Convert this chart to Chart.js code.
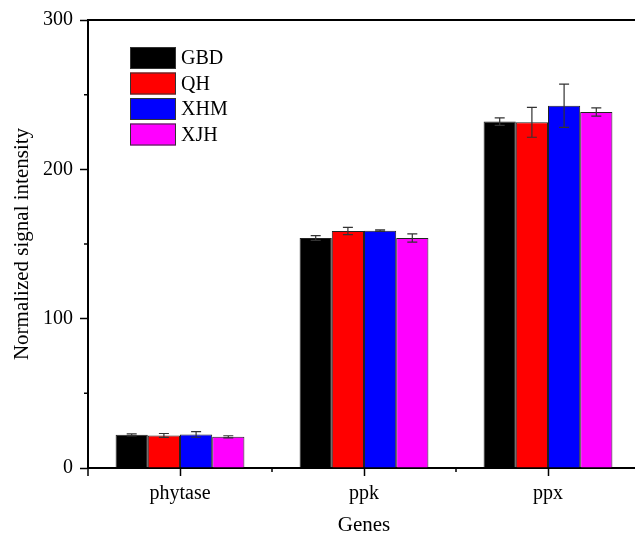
<!DOCTYPE html>
<html>
<head>
<meta charset="utf-8">
<script src="https://cdn.jsdelivr.net/npm/chart.js@4.4.1/dist/chart.umd.min.js"></script>
<style>
  html, body { margin: 0; padding: 0; background: #fff; overflow: hidden; }
  #wrap { width: 635px; height: 536px; overflow: hidden; }
</style>
</head>
<body>
<div id="wrap"><canvas id="chart" width="642" height="536"></canvas></div>
<script>
// Data
const genes = ['phytase', 'ppk', 'ppx'];
const groups = ['GBD', 'QH', 'XHM', 'XJH'];
const gbdVals = [22.2, 154.0, 232.0];
const gbdErr = [0.7, 1.6, 2.5];
const qhVals = [21.8, 158.7, 231.5];
const qhErr = [1.3, 2.4, 10.0];
const xhmVals = [22.5, 158.9, 242.6];
const xhmErr = [1.9, 0.5, 14.5];
const xjhVals = [20.9, 154.0, 238.4];
const xjhErr = [0.7, 2.8, 2.8];
const yTicks = [0, 100, 200, 300];

const colors = ['#000000', '#ff0000', '#0000ff', '#ff00ff'];
const serif = '"Liberation Serif", "Times New Roman", serif';
const font = { family: serif, size: 20 };
const titleFont = { family: serif, size: 21 };

const datasets = [gbdVals, qhVals, xhmVals, xjhVals].map((vals, i) => ({
  label: groups[i],
  data: vals,
  errors: [gbdErr, qhErr, xhmErr, xjhErr][i],
  backgroundColor: colors[i],
  borderColor: '#222',
  borderWidth: 1,
  categoryPercentage: 0.7,
  barPercentage: 1.0
}));

// Error bars drawn from the y scale
const errorBars = {
  id: 'errorBars',
  afterDatasetsDraw(chart) {
    const { ctx, scales: { y } } = chart;
    ctx.save();
    ctx.strokeStyle = '#333';
    ctx.lineWidth = 1.2;
    chart.data.datasets.forEach((ds, i) => {
      chart.getDatasetMeta(i).data.forEach((bar, j) => {
        const top = y.getPixelForValue(ds.data[j] + ds.errors[j]);
        const bot = y.getPixelForValue(ds.data[j] - ds.errors[j]);
        ctx.beginPath();
        ctx.moveTo(bar.x, top); ctx.lineTo(bar.x, bot);
        ctx.moveTo(bar.x - 5, top); ctx.lineTo(bar.x + 5, top);
        ctx.moveTo(bar.x - 5, bot); ctx.lineTo(bar.x + 5, bot);
        ctx.stroke();
      });
    });
    ctx.restore();
  }
};

// Top frame line, minor ticks and the boxed legend
const frame = {
  id: 'frame',
  afterDraw(chart) {
    const { ctx, chartArea: a, scales: { y } } = chart;
    ctx.save();
    ctx.strokeStyle = '#000';
    ctx.lineWidth = 2;
    ctx.beginPath();
    ctx.moveTo(a.left - 1, a.top); ctx.lineTo(a.right, a.top);
    ctx.stroke();

    ctx.lineWidth = 1.5;
    ctx.beginPath();
    y.ticks.forEach(t => {
      if (!yTicks.includes(t.value)) {
        const py = y.getPixelForValue(t.value);
        ctx.moveTo(a.left - 4, py); ctx.lineTo(a.left, py);
      }
    });
    const step = (a.right - a.left) / genes.length;
    ctx.moveTo(a.left, a.bottom); ctx.lineTo(a.left, a.bottom + 8);
    for (let k = 1; k < genes.length; k++) {
      const px = a.left + step * k;
      ctx.moveTo(px, a.bottom); ctx.lineTo(px, a.bottom + 4);
    }
    ctx.stroke();

    // legend
    const lx = a.left + 42, ly = a.top + 27;
    ctx.font = `${font.size}px ${serif}`;
    ctx.textBaseline = 'middle';
    chart.data.datasets.forEach((ds, i) => {
      const by = ly + i * 25.5;
      ctx.fillStyle = ds.backgroundColor;
      ctx.fillRect(lx, by, 46, 22);
      ctx.strokeStyle = '#333';
      ctx.lineWidth = 1;
      ctx.strokeRect(lx + 0.5, by + 0.5, 45, 21);
      ctx.fillStyle = '#000';
      ctx.fillText(ds.label, lx + 51, by + 12);
    });
    ctx.restore();
  }
};

new Chart(document.getElementById('chart'), {
  type: 'bar',
  data: { labels: genes, datasets },
  options: {
    responsive: false,
    animation: false,
    devicePixelRatio: 1,
    layout: { padding: { top: 20, right: 2, left: 0, bottom: 0 } },
    plugins: { legend: { display: false }, tooltip: { enabled: false } },
    scales: {
      x: {
        grid: { display: true, drawOnChartArea: false, offset: false, tickLength: 8, color: '#000', tickWidth: 1.5 },
        border: { color: '#000', width: 2 },
        ticks: { color: '#000', font, padding: 6 },
        title: { display: true, text: 'Genes', color: '#000', font: titleFont, padding: { top: 0, bottom: -2 } },
        afterFit: s => { s.height = 68; }
      },
      y: {
        min: 0,
        max: 300,
        grid: {
          display: true, drawOnChartArea: false, tickLength: 8, tickWidth: 1.5,
          color: '#000',
          tickColor: c => (c.tick && yTicks.includes(c.tick.value)) ? '#000' : 'rgba(0,0,0,0)'
        },
        border: { color: '#000', width: 2 },
        ticks: {
          stepSize: 50,
          color: '#000',
          font,
          padding: 7,
          callback: v => yTicks.includes(v) ? v : ''
        },
        title: { display: true, text: 'Normalized signal intensity', color: '#000', font: titleFont, padding: { top: 10, bottom: 0 } },
        afterFit: s => { s.width = 88; }
      }
    }
  },
  plugins: [errorBars, frame]
});
</script>
</body>
</html>
